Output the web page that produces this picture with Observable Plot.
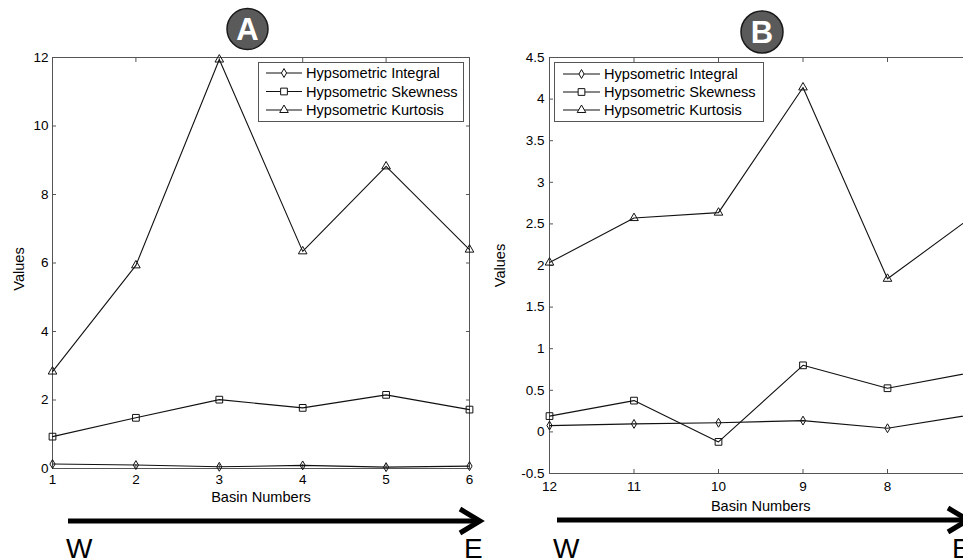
<!DOCTYPE html>
<html><head><meta charset="utf-8">
<script src="https://cdn.jsdelivr.net/npm/d3@7"></script>
<script src="https://cdn.jsdelivr.net/npm/@observablehq/plot@0.6"></script>
<style>
html,body{margin:0;padding:0;background:#fff;}
#chart{position:relative;width:963px;height:559px;overflow:hidden;background:#fff;font-family:"Liberation Sans",Arial,Helvetica,sans-serif;}
.panel{position:absolute;top:0;width:490px;height:520px;}
#overlay{position:absolute;left:0;top:0;pointer-events:none;}
</style></head>
<body><div id="chart"></div>
<script>
// ---- data ----
const seriesNames = ["Hypsometric Integral", "Hypsometric Skewness", "Hypsometric Kurtosis"];
const seriesSymbols = ["diamond", "square", "triangle"];

const basinsA = [1, 2, 3, 4, 5, 6];
const integralA = [0.13, 0.10, 0.05, 0.09, 0.04, 0.07];
const skewnessA = [0.93, 1.48, 2.01, 1.77, 2.15, 1.72];
const kurtosisA = [2.83, 5.93, 11.94, 6.34, 8.82, 6.39];
const yTicksA = [0, 2, 4, 6, 8, 10, 12];

const basinsB = [12, 11, 10, 9, 8, 7];
const integralB = [0.076, 0.096, 0.11, 0.136, 0.044, 0.207];
const skewnessB = [0.19, 0.376, -0.12, 0.80, 0.525, 0.714];
const kurtosisB = [2.035, 2.57, 2.635, 4.14, 1.84, 2.585];
const yTicksB = [-0.5, 0, 0.5, 1, 1.5, 2, 2.5, 3, 3.5, 4, 4.5];

const panelLetters = ["A", "B"];
const directionLabels = ["W", "E"];
const xTitle = "Basin Numbers";
const yTitle = "Values";

// ---- styling ----
const symbolR = [2.7, 3.8, 3.2];
const FONT = '"Liberation Sans", Arial, Helvetica, sans-serif';
const TICK_FS = 13.5;

function makePanel(basins, series, yDomain, yTicks, cfg) {
  const marks = [
    Plot.frame({stroke: "#555", strokeWidth: 1}),
    Plot.axisX({ticks: basins, tickSize: -4, tickPadding: cfg.xPad, tickFormat: d => String(d), stroke: "#555", fill: "#000", fontSize: TICK_FS, label: null}),
    Plot.axisX({anchor: "top", ticks: basins, tickSize: -4, tickFormat: () => "", stroke: "#555", label: null}),
    Plot.axisY({ticks: yTicks, tickSize: -4, tickPadding: cfg.yPad, tickFormat: d => String(d), stroke: "#555", fill: "#000", fontSize: TICK_FS, label: null}),
    Plot.axisY({anchor: "right", ticks: yTicks, tickSize: -4, tickFormat: () => "", stroke: "#555", label: null}),
    Plot.text([xTitle], {text: d => d, frameAnchor: "bottom", textAnchor: "middle", lineAnchor: "middle", dy: cfg.xLabelDy, fontSize: 14.6, fill: "#000"}),
    Plot.text([yTitle], {text: d => d, frameAnchor: "left", textAnchor: "middle", lineAnchor: "middle", rotate: -90, dx: cfg.yLabelDx, dy: cfg.yLabelDy, fontSize: 14.6, fill: "#000"})
  ];
  series.forEach((vals) => {
    const data = basins.map((b, i) => ({basin: b, value: vals[i]}));
    marks.push(Plot.line(data, {x: "basin", y: "value", stroke: "#111", strokeWidth: 1.1}));
  });
  series.forEach((vals, k) => {
    const data = basins.map((b, i) => ({basin: b, value: vals[i]}));
    marks.push(Plot.dot(data, {x: "basin", y: "value", symbol: seriesSymbols[k], r: symbolR[k], fill: "none", stroke: "#111", strokeWidth: 1}));
  });
  return Plot.plot({
    width: 490, height: 520,
    marginLeft: cfg.marginLeft, marginRight: cfg.marginRight, marginTop: 57, marginBottom: cfg.marginBottom,
    style: {fontFamily: FONT, fontSize: TICK_FS + "px", color: "#000", background: "transparent", overflow: "visible"},
    x: {domain: [basins[0], basins[basins.length - 1]], label: null},
    y: {domain: yDomain, label: null},
    marks
  });
}

const chart = document.getElementById("chart");
const cfgA = {left: 0, marginLeft: 52, marginRight: 21, marginBottom: 52, xPad: 10, yPad: 8, xLabelDy: 29, yLabelDx: -33, yLabelDy: 6};
const cfgB = {left: 490, marginLeft: 59, marginRight: 8.5, marginBottom: 47, xPad: 11.5, yPad: 9, xLabelDy: 33, yLabelDx: -49, yLabelDy: 0};

[[basinsA, [integralA, skewnessA, kurtosisA], [0, 12], yTicksA, cfgA],
 [basinsB, [integralB, skewnessB, kurtosisB], [-0.5, 4.5], yTicksB, cfgB]].forEach(([b, s, d, t, c]) => {
  const div = document.createElement("div");
  div.className = "panel";
  div.style.left = c.left + "px";
  div.appendChild(makePanel(b, s, d, t, c));
  chart.appendChild(div);
});

// ---- overlay annotations ----
const svg = d3.select(chart).append("svg").attr("id", "overlay").attr("width", 963).attr("height", 559)
  .style("font-family", FONT);

const decor = [
  {circle: [247.5, 29, 20.5], legend: {x: 258, y: 62, w: 205, h: 59, l0: 266, l1: 302, tx: 306, rows: [73, 91.5, 110]},
   arrow: {x0: 68, x1: 480, y: 521}, W: 66, E: 464},
  {circle: [762, 32, 21], legend: {x: 554, y: 62, w: 209, h: 59, l0: 563, l1: 600, tx: 604, rows: [74, 92, 110]},
   arrow: {x0: 557, x1: 968, y: 520}, W: 553, E: 952}
];
const d3Symbols = {diamond: d3.symbolDiamond, square: d3.symbolSquare, triangle: d3.symbolTriangle};

decor.forEach((p, i) => {
  const [cx, cy, r] = p.circle;
  svg.append("circle").attr("cx", cx).attr("cy", cy).attr("r", r)
    .attr("fill", "#5a5a5a").attr("stroke", "#1a1a1a").attr("stroke-width", 1.5);
  svg.append("text").attr("x", cx).attr("y", cy + 11).attr("text-anchor", "middle")
    .attr("font-size", 31).attr("font-weight", "bold").attr("fill", "#fff").text(panelLetters[i]);

  const L = p.legend;
  svg.append("rect").attr("x", L.x + 0.5).attr("y", L.y + 0.5).attr("width", L.w).attr("height", L.h)
    .attr("fill", "#fff").attr("stroke", "#555").attr("stroke-width", 1);
  seriesNames.forEach((name, k) => {
    const ry = L.rows[k];
    svg.append("line").attr("x1", L.l0).attr("x2", L.l1).attr("y1", ry).attr("y2", ry)
      .attr("stroke", "#111").attr("stroke-width", 1.1);
    svg.append("path").attr("transform", `translate(${(L.l0 + L.l1) / 2},${ry})`)
      .attr("d", d3.symbol(d3Symbols[seriesSymbols[k]], Math.PI * symbolR[k] ** 2)())
      .attr("fill", "#fff").attr("stroke", "#111").attr("stroke-width", 1);
    svg.append("text").attr("x", L.tx).attr("y", ry + 5.2).attr("font-size", 14.6).attr("fill", "#000").text(name);
  });

  const A = p.arrow;
  svg.append("line").attr("x1", A.x0).attr("x2", A.x1 - 3).attr("y1", A.y).attr("y2", A.y)
    .attr("stroke", "#000").attr("stroke-width", 5);
  svg.append("path").attr("d", `M${A.x1 - 20},${A.y - 12}L${A.x1},${A.y}L${A.x1 - 20},${A.y + 12}`)
    .attr("fill", "none").attr("stroke", "#000").attr("stroke-width", 5).attr("stroke-linejoin", "miter");

  svg.append("text").attr("x", p.W).attr("y", 558).attr("font-size", 28).attr("fill", "#000").text(directionLabels[0]);
  svg.append("text").attr("x", p.E).attr("y", 558).attr("font-size", 28).attr("fill", "#000").text(directionLabels[1]);
});
</script>
</body></html>
